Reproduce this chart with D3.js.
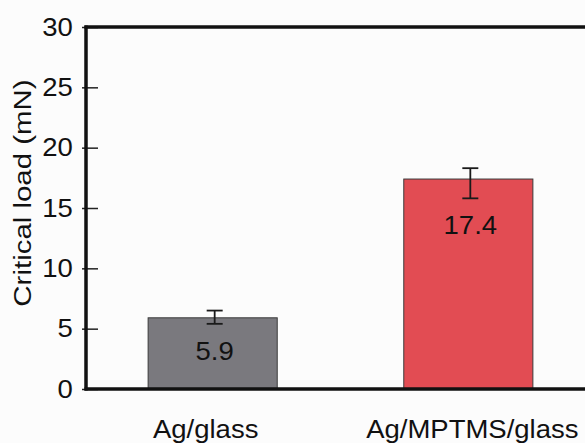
<!DOCTYPE html>
<html>
<head>
<meta charset="utf-8">
<script src="https://cdn.jsdelivr.net/npm/d3@7"></script>
<style>
  html, body { margin: 0; padding: 0; background: #fcfcfc; }
  svg { display: block; }
  text { font-family: "Liberation Sans", Arial, sans-serif; fill: #111; }
</style>
</head>
<body>
<script>
const categories = ["Ag/glass", "Ag/MPTMS/glass"];
const values = [5.9, 17.4];
const errUpper = [6.5, 18.3];
const errLower = [5.4, 15.8];
const valueLabels = ["5.9", "17.4"];
const barColors = ["#7a797e", "#e24c53"];
const yTicks = [0, 5, 10, 15, 20, 25, 30];
const yTitle = "Critical load (mN)";

(function () {
const W = 585, H = 443;
const svg = d3.select("body").append("svg").attr("width", W).attr("height", H);
svg.append("rect").attr("width", W).attr("height", H).attr("fill", "#fcfcfc");

const mLeft = 86, mTop = 27, mBottom = 389;
const y = d3.scaleLinear().domain([0, 30]).range([mBottom, mTop]);
const x = d3.scaleBand().domain(categories).range([mLeft, 595]).paddingInner(0.495).paddingOuter(0.243);

const data = categories.map((c, i) => ({c, v: values[i], hi: errUpper[i], lo: errLower[i], lab: valueLabels[i], col: barColors[i]}));

// bars
svg.selectAll("rect.bar").data(data).join("rect")
  .attr("class", "bar")
  .attr("x", d => x(d.c))
  .attr("y", d => y(d.v))
  .attr("width", x.bandwidth())
  .attr("height", d => y(0) - y(d.v))
  .attr("fill", d => d.col)
  .attr("stroke", "#3a3a3a")
  .attr("stroke-width", 1);

// error bars
const cap = 8;
const cx = d => x(d.c) + x.bandwidth() / 2 + 2;
const eb = svg.selectAll("g.err").data(data).join("g").attr("class", "err")
  .attr("stroke", "#1a1a1a").attr("stroke-width", 1.8);
eb.append("line")
  .attr("x1", cx).attr("x2", cx)
  .attr("y1", d => y(d.hi)).attr("y2", d => y(d.lo));
eb.append("line")
  .attr("x1", d => cx(d) - cap).attr("x2", d => cx(d) + cap)
  .attr("y1", d => y(d.hi)).attr("y2", d => y(d.hi));
eb.append("line")
  .attr("x1", d => cx(d) - cap).attr("x2", d => cx(d) + cap)
  .attr("y1", d => y(d.lo)).attr("y2", d => y(d.lo));

// value labels
svg.selectAll("text.val").data(data).join("text")
  .attr("class", "val")
  .attr("transform", d => `translate(${cx(d)},${y(d.lo) + 36}) scale(1.1,1)`)
  .attr("text-anchor", "middle")
  .attr("font-size", 25)
  .text(d => d.lab);

// y axis ticks and labels
const yAxis = d3.axisLeft(y).tickValues(yTicks).tickSize(0).tickPadding(12);
const ga = svg.append("g").attr("transform", `translate(${mLeft},0)`).call(yAxis);
ga.select(".domain").remove();
ga.selectAll(".tick text").attr("font-size", 25).attr("fill", "#111")
  .attr("font-family", "'Liberation Sans', Arial, sans-serif")
  .attr("transform", "scale(1.1,1)");
ga.selectAll(".tick").append("line")
  .attr("x1", -4).attr("x2", 12).attr("stroke", "#222").attr("stroke-width", 1.5);

// frame lines (left, top, bottom)
svg.append("line").attr("x1", mLeft).attr("x2", mLeft).attr("y1", mTop - 1.5).attr("y2", mBottom + 1.5)
  .attr("stroke", "#111").attr("stroke-width", 3.5);
svg.append("line").attr("x1", mLeft - 1.5).attr("x2", W).attr("y1", mTop).attr("y2", mTop)
  .attr("stroke", "#111").attr("stroke-width", 3.5);
svg.append("line").attr("x1", mLeft - 1.5).attr("x2", W).attr("y1", mBottom).attr("y2", mBottom)
  .attr("stroke", "#111").attr("stroke-width", 3.5);

// category labels
svg.selectAll("text.cat").data(categories).join("text")
  .attr("class", "cat")
  .attr("transform", (d, i) => `translate(${x(d) + x.bandwidth() / 2 + (i === 0 ? -7 : 4)},438) scale(1.1,1)`)
  .attr("text-anchor", "middle")
  .attr("font-size", 25)
  .text(d => d);

// y title
svg.append("text")
  .attr("transform", `translate(31,193) rotate(-90) scale(1.28,1)`)
  .attr("text-anchor", "middle")
  .attr("font-size", 23)
  .text(yTitle);
})();
</script>
</body>
</html>
